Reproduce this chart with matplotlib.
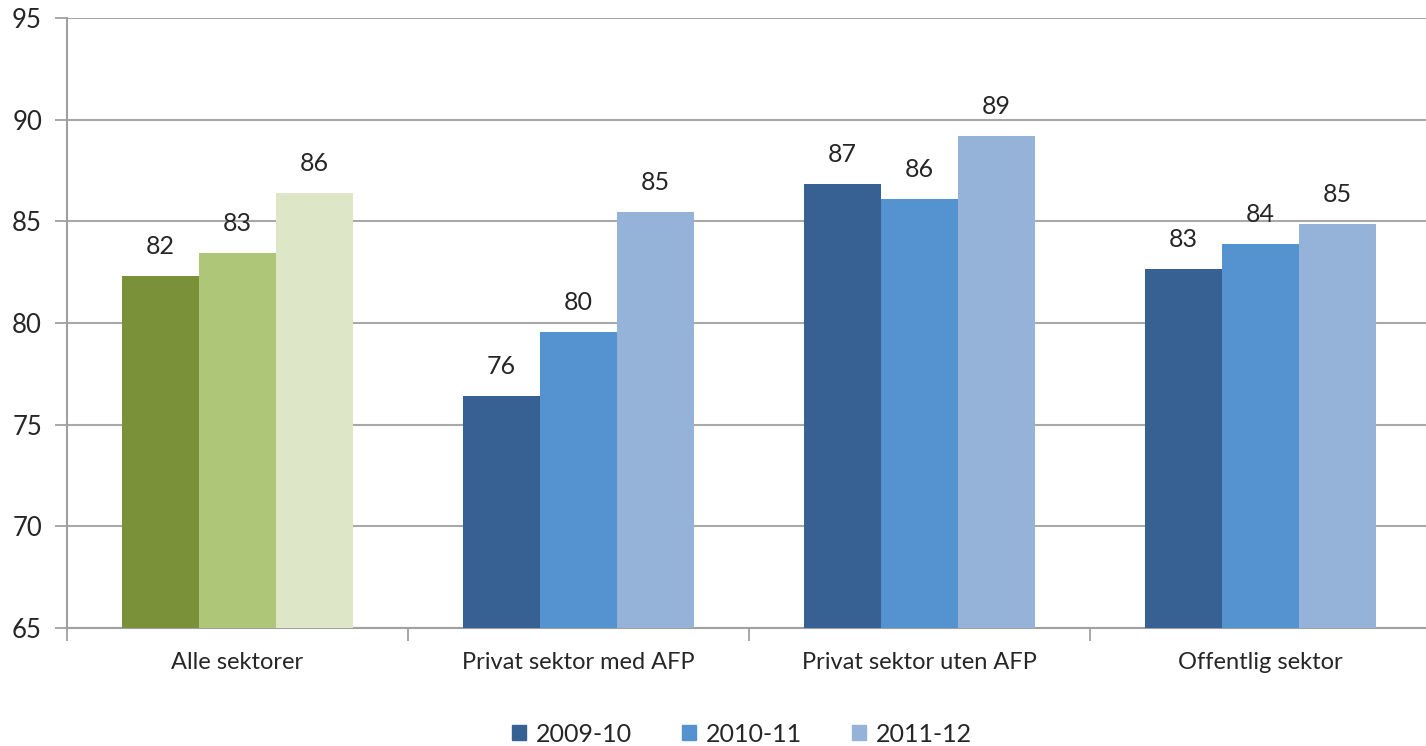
import matplotlib.pyplot as plt
import numpy as np

plt.rcParams['font.family'] = ['Lato', 'DejaVu Sans']

categories = ["Alle sektorer", "Privat sektor med AFP", "Privat sektor uten AFP", "Offentlig sektor"]
years = ["2009-10", "2010-11", "2011-12"]
values_0910 = [82.3, 76.4, 86.85, 82.65]
values_1011 = [83.45, 79.55, 86.1, 83.9]
values_1112 = [86.4, 85.45, 89.2, 84.85]
labels_0910 = ["82", "76", "87", "83"]
labels_1011 = ["83", "80", "86", "84"]
labels_1112 = ["86", "85", "89", "85"]

blues = ["#376192", "#5593D0", "#95B3D8"]
greens = ["#7A9039", "#ADC677", "#DDE7C8"]
txt = "#262626"

fig = plt.figure(figsize=(14.26, 7.46), dpi=100)
ax = fig.add_axes([67 / 1426, 118 / 746, 1364 / 1426, 610 / 746])

x = np.arange(len(categories))
w = 0.226
series = [values_0910, values_1011, values_1112]
labels = [labels_0910, labels_1011, labels_1112]
for i, (vals, labs) in enumerate(zip(series, labels)):
    cols = [greens[i]] + [blues[i]] * (len(categories) - 1)
    bars = ax.bar(x + (i - 1) * w, np.array(vals) - 65, w, bottom=65, color=cols,
                  label=years[i], zorder=3, linewidth=0)
    for b, lab in zip(bars, labs):
        ax.annotate(lab, (b.get_x() + b.get_width() / 2, b.get_y() + b.get_height()),
                    xytext=(0, 13), textcoords="offset points", ha="center", va="bottom",
                    fontsize=18, color=txt, zorder=4)

ax.set_ylim(65, 95)
ax.set_xlim(-0.5, 3.5)
ax.set_yticks(range(65, 96, 5))
ax.tick_params(axis="y", labelsize=18.5, labelcolor=txt, color="#a0a0a0",
               length=9, width=1.3, pad=9)
ax.grid(axis="y", color="#a8a8a8", linewidth=1.5, zorder=0)

ax.set_xticks([-0.5, 0.5, 1.5, 2.5])
ax.set_xticklabels([])
ax.set_xticks(x, minor=True)
ax.set_xticklabels(categories, minor=True)
ax.tick_params(axis="x", which="major", color="#a0a0a0", length=9, width=1.3)
ax.tick_params(axis="x", which="minor", length=0, labelsize=17, labelcolor=txt, pad=17)

for s in ["top", "right"]:
    ax.spines[s].set_visible(False)
for s in ["left", "bottom"]:
    ax.spines[s].set_color("#a0a0a0")
    ax.spines[s].set_linewidth(1.5)

handles = [plt.Rectangle((0, 0), 1, 1, color=c) for c in blues]
fig.legend(handles, years, loc="center", bbox_to_anchor=(742 / 1426, 1 - 734 / 746),
           ncol=3, frameon=False, fontsize=18, handlelength=0.55, handleheight=0.55,
           columnspacing=2.0, handletextpad=0.4, labelcolor=txt)

fig.savefig("out.png", dpi=100)
